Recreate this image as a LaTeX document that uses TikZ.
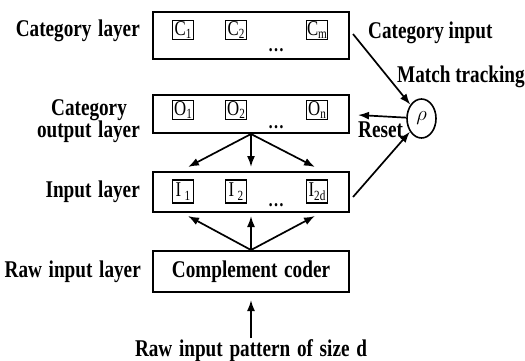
\documentclass[tikz,border=0pt]{standalone}
\usepackage{fontspec}
\setmainfont{Liberation Serif}[FakeStretch=0.8]
\usetikzlibrary{arrows.meta,shapes.geometric}
\tikzset{
  lbl/.style={inner sep=0pt, font=\fontsize{24}{26}\selectfont\bfseries},
  layerbox/.style={draw, line width=2pt, minimum width=196pt, inner sep=0pt},
  unit/.style={draw, line width=1.1pt, minimum width=21pt, minimum height=19pt, inner sep=0pt, font=\fontsize{21}{21}\selectfont},
  dots/.style={inner sep=0pt, font=\fontsize{20}{20}\selectfont\bfseries},
  arr/.style={line width=1.7pt, -{Latex[length=11pt,width=8pt]}},
}
\newcommand{\sbs}[1]{\raisebox{-3.5pt}{\fontsize{14}{14}\selectfont #1}}
\newcommand{\wsp}{\hspace{0.28em}}
\begin{document}
\begin{tikzpicture}[x=1pt,y=-1pt]
\useasboundingbox (0,0) rectangle (525,360);
% layer boxes
\node[layerbox, minimum height=47pt] (cat) at (251,35.5) {};
\node[layerbox, minimum height=38pt] (out) at (251,114) {};
\node[layerbox, minimum height=40pt] (inp) at (251,192) {};
\node[layerbox, minimum height=41pt, lbl] (cod) at (251,271.5) {Complement\wsp coder};
% units
\node[unit] (c1) at (183,30) {C\sbs{1}};
\node[unit] (c2) at (236,30) {C\sbs{2}};
\node[unit] (cm) at (317,30) {C\sbs{m}};
\node[dots, anchor=base] (cd) at (276,51) {\ldots};
\node[unit] (o1) at (183,110) {O\sbs{1}};
\node[unit] (o2) at (236,110) {O\sbs{2}};
\node[unit] (on) at (317,110) {O\sbs{n}};
\node[dots, anchor=base] (od) at (276,128) {\ldots};
\node[unit, minimum height=23pt] (i1) at (183,191.5) {I\,\sbs{1}};
\node[unit, minimum height=23pt] (i2) at (236,191.5) {I\,\sbs{2}};
\node[unit, minimum height=23pt] (id) at (317,191.5) {I\sbs{2d}};
\node[dots, anchor=base] (idd) at (276,206) {\ldots};
% rho
\node[ellipse, draw, line width=1.6pt, minimum width=29pt, minimum height=39pt, inner sep=0pt] (rho) at (421.5,118.5) {\fontsize{22}{22}\selectfont$\rho$};
% labels
\node[lbl, anchor=base east] (l1) at (140,36) {Category\wsp layer};
\node[lbl, anchor=base west] (l2) at (368,38) {Category input};
\node[lbl, anchor=base west] (l3) at (397,82) {Match tracking};
\node[lbl, anchor=base] (l4) at (89,115) {Category};
\node[lbl, anchor=base east] (l5) at (140,137) {output\wsp layer};
\node[lbl, anchor=base west] (l6) at (358,137) {Reset};
\node[lbl, anchor=base east] (l7) at (140,197) {Input\wsp layer};
\node[lbl, anchor=base east] (l8) at (141,277) {Raw\wsp input\wsp layer};
\node[lbl, anchor=base] (l9) at (251,356) {Raw\wsp input\wsp pattern\wsp of\wsp size\wsp d};
% coordinates
\coordinate (a1) at (188,167);
\coordinate (a2) at (251,167);
\coordinate (a3) at (315,167);
\coordinate (b1) at (188,216);
\coordinate (b2) at (251,216);
\coordinate (b3) at (315,216);
\coordinate (rawS) at (251,338);
\coordinate (rawT) at (251,300);
\coordinate (ciS) at (353,34);
\coordinate (rsT) at (358,115);
\coordinate (ipS) at (353,197);
% connectors
\draw[arr] (out.south) -- (a1);
\draw[arr] (out.south) -- (a2);
\draw[arr] (out.south) -- (a3);
\draw[arr] (cod.north) -- (b1);
\draw[arr] (cod.north) -- (b2);
\draw[arr] (cod.north) -- (b3);
\draw[arr] (rawS) -- (rawT);
\draw[arr] (ciS) -- (rho);
\draw[arr] (rho) -- (rsT);
\draw[arr] (ipS) -- (rho);
\end{tikzpicture}
\end{document}
